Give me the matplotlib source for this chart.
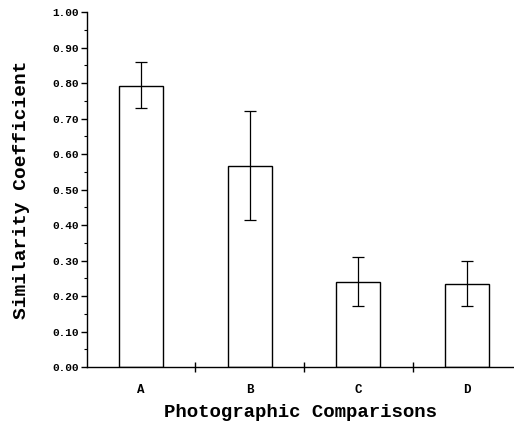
import matplotlib
matplotlib.use("Agg")
import matplotlib.pyplot as plt
from matplotlib.ticker import MultipleLocator, FixedLocator, NullFormatter

categories = ["A", "B", "C", "D"]
values = [0.792, 0.567, 0.240, 0.235]
err_upper = [0.859, 0.722, 0.311, 0.298]
err_lower = [0.730, 0.414, 0.172, 0.172]
yticks = [0.0, 0.1, 0.2, 0.3, 0.4, 0.5, 0.6, 0.7, 0.8, 0.9, 1.0]

font = "Liberation Mono"

fig = plt.figure(figsize=(5.14, 4.29), dpi=100)
ax = fig.add_axes([0.169, 0.1445, 0.831, 0.8275])

x = list(range(len(categories)))
yerr = [[v - lo for v, lo in zip(values, err_lower)],
        [hi - v for v, hi in zip(values, err_upper)]]
ax.bar(x, values, width=0.405, color="white", edgecolor="black", linewidth=1.0, zorder=2)
ax.errorbar(x, values, yerr=yerr, fmt="none", ecolor="black", elinewidth=0.9,
            capsize=4, capthick=0.9, zorder=3)

ax.set_xlim(-0.5, 3.435)
ax.set_ylim(0, 1.0)
ax.spines["top"].set_visible(False)
ax.spines["right"].set_visible(False)
ax.spines["left"].set_linewidth(1.0)
ax.spines["bottom"].set_linewidth(1.0)

ax.set_yticks(yticks)
ax.set_yticklabels([f"{t:.2f}" for t in yticks], fontfamily=font, fontweight="bold", fontsize=8)
ax.yaxis.set_minor_locator(MultipleLocator(0.05))
ax.tick_params(axis="y", which="major", direction="out", length=4, width=1.0, pad=2)
ax.tick_params(axis="y", which="minor", direction="out", length=2, width=0.8)

ax.set_xticks(x)
ax.set_xticklabels(categories, fontfamily=font, fontweight="bold", fontsize=9)
ax.tick_params(axis="x", which="major", length=0, pad=12)
ax.xaxis.set_minor_locator(FixedLocator([0.5, 1.5, 2.5]))
ax.xaxis.set_minor_formatter(NullFormatter())
ax.tick_params(axis="x", which="minor", direction="inout", length=7, width=1.0)

ax.set_ylabel("Similarity Coefficient", fontfamily=font, fontweight="bold", fontsize=14, labelpad=16)
ax.set_xlabel("Photographic Comparisons", fontfamily=font, fontweight="bold", fontsize=13.7, labelpad=6)

fig.savefig("out.png", dpi=100)
